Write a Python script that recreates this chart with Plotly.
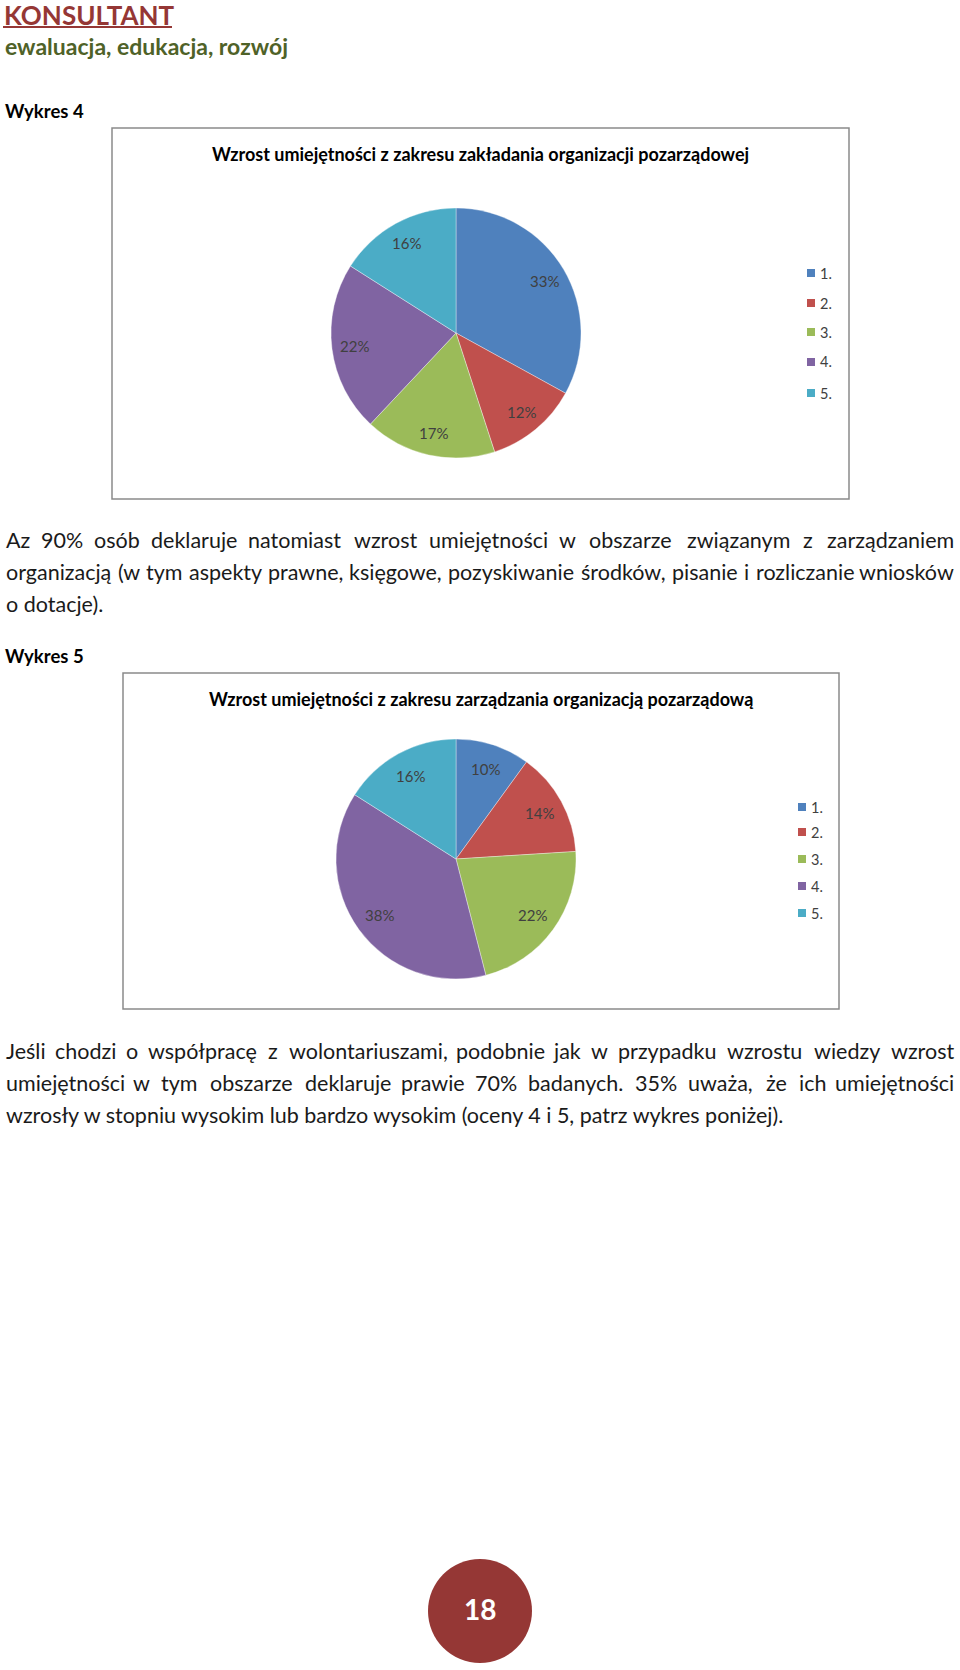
import math
import plotly.graph_objects as go

W, H = 960, 1670

# ---------------- data ----------------
categories = ["1.", "2.", "3.", "4.", "5."]
chart1_title = "Wzrost umiejętności z zakresu zakładania organizacji pozarządowej"
chart1_values = [33, 12, 17, 22, 16]
chart2_title = "Wzrost umiejętności z zakresu zarządzania organizacją pozarządową"
chart2_values = [10, 14, 22, 38, 16]
slice_colors = ["#4F81BD", "#C0504D", "#9BBB59", "#8064A2", "#4BACC6"]

header_title = "KONSULTANT"
header_sub = "ewaluacja, edukacja, rozwój"
label_chart4 = "Wykres 4"
label_chart5 = "Wykres 5"
para1_lines = [
    "Az 90% osób deklaruje natomiast wzrost umiejętności w obszarze związanym z zarządzaniem",
    "organizacją (w tym aspekty prawne, księgowe, pozyskiwanie środków, pisanie i rozliczanie wniosków",
    "o dotacje).",
]
para2_lines = [
    "Jeśli chodzi o współpracę z wolontariuszami, podobnie jak w przypadku wzrostu wiedzy wzrost",
    "umiejętności w tym obszarze deklaruje prawie 70% badanych. 35% uważa, że ich umiejętności",
    "wzrosły w stopniu wysokim lub bardzo wysokim (oceny 4 i 5, patrz wykres poniżej).",
]
page_number = "18"

# ---------------- helpers ----------------
FONT = "Lato, 'Open Sans', sans-serif"
TXT = "#1a1a1a"
RED = "#953735"
GREEN = "#4F6228"


def px(x):
    return x / W


def py(y):
    return 1 - y / H


def char_w(c):
    if c in "ijlı.,:;!|'ł":
        return 0.24
    if c in "f":
        return 0.31
    if c in "tr":
        return 0.35
    if c in "()":
        return 0.31
    if c in "mM":
        return 0.80
    if c in "wW":
        return 0.76
    if c.isdigit():
        return 0.58
    if c == "%":
        return 0.80
    if c.isupper():
        return 0.65 if c not in "JI" else 0.33
    return 0.52


def word_w(word, size):
    return sum(char_w(c) for c in word) * size


annotations = []
shapes = []


def text(x, y, s, size, color=TXT, bold=False, xanchor="left", family=FONT):
    if bold:
        s = "<b>" + s + "</b>"
    annotations.append(dict(
        x=px(x), y=py(y), xref="paper", yref="paper", text=s, showarrow=False,
        xanchor=xanchor, yanchor="middle",
        font=dict(family=family, size=size, color=color),
    ))


BODY = 21.5
LEFT, RIGHT = 4, 956


def justified(line, y):
    words = line.split(" ")
    widths = [word_w(w, BODY) for w in words]
    gap = (RIGHT - LEFT - sum(widths)) / (len(words) - 1)
    x = LEFT
    for i, (w, ww) in enumerate(zip(words, widths)):
        if i == len(words) - 1:
            text(RIGHT, y, w, BODY, xanchor="right")
        elif i == 0:
            text(LEFT, y, w, BODY, xanchor="left")
        else:
            text(x + ww / 2, y, w, BODY, xanchor="center")
        x += ww + gap


def paragraph(lines, y0, dy=32):
    for i, ln in enumerate(lines):
        y = y0 + i * dy
        if i < len(lines) - 1:
            justified(ln, y)
        else:
            text(LEFT, y, ln, BODY)


# ---------------- header ----------------
text(2, 15, header_title, 26, color=RED, bold=True)
shapes.append(dict(type="line", xref="paper", yref="paper",
                   x0=px(3), x1=px(172), y0=py(27), y1=py(27),
                   line=dict(color=RED, width=2)))
text(3, 46, header_sub, 23, color=GREEN, bold=True)
text(3, 111, label_chart4, 18.5, color="#000", bold=True)

paragraph(para1_lines, 540)
text(3, 656, label_chart5, 18.5, color="#000", bold=True)
paragraph(para2_lines, 1051)

# ---------------- charts ----------------
fig = go.Figure()


def pie_chart(values, title, box, center, r, label_r, legend_x, legend_ys):
    x0, y0, x1, y1 = box
    shapes.append(dict(type="rect", xref="paper", yref="paper",
                       x0=px(x0), x1=px(x1), y0=py(y1), y1=py(y0),
                       line=dict(color="#8a8a8a", width=1.5), fillcolor="rgba(0,0,0,0)"))
    text((x0 + x1) / 2, y0 + 26, title, 18, color="#000", bold=True, xanchor="center")
    cx, cy = center
    fig.add_trace(go.Pie(
        labels=categories, values=values, sort=False, direction="clockwise", rotation=0,
        marker=dict(colors=slice_colors, line=dict(color="rgba(255,255,255,0.6)", width=0.6)),
        textinfo="none",
        domain=dict(x=[px(cx - r), px(cx + r)], y=[py(cy + r), py(cy - r)]),
        showlegend=False, hoverinfo="label+percent",
    ))
    # percentage labels, placed along each slice's bisector (derived from the values)
    total = sum(values)
    cum = 0
    for v in values:
        mid = (cum + v / 2) / total * 2 * math.pi
        cum += v
        lx = cx + label_r * r * math.sin(mid)
        ly = cy - label_r * r * math.cos(mid)
        text(lx, ly, f"{round(v / total * 100)}%", 15, color="#404040", xanchor="center")
    for cat, col, ly in zip(categories, slice_colors, legend_ys):
        shapes.append(dict(type="rect", xref="paper", yref="paper",
                           x0=px(legend_x), x1=px(legend_x + 8), y0=py(ly + 4), y1=py(ly - 4),
                           line=dict(width=0), fillcolor=col))
        text(legend_x + 11, ly, cat, 14.5, color="#404040")


pie_chart(chart1_values, chart1_title, (112, 128, 849, 499), (456, 333), 125, 0.82,
          807, [273, 303, 332, 362, 393])
pie_chart(chart2_values, chart2_title, (123, 673, 839, 1009), (456, 859), 120, 0.79,
          798, [807, 832, 859, 886, 913])

# ---------------- page number ----------------
shapes.append(dict(type="circle", xref="paper", yref="paper",
                   x0=px(428), x1=px(532), y0=py(1663), y1=py(1559),
                   line=dict(width=0), fillcolor=RED))
text(480, 1609, page_number, 28, color="#ffffff", bold=True, xanchor="center")

fig.update_layout(
    width=W, height=H, margin=dict(l=0, r=0, t=0, b=0),
    paper_bgcolor="#ffffff", plot_bgcolor="#ffffff",
    annotations=annotations, shapes=shapes, showlegend=False,
)

fig.write_html("out.html")
